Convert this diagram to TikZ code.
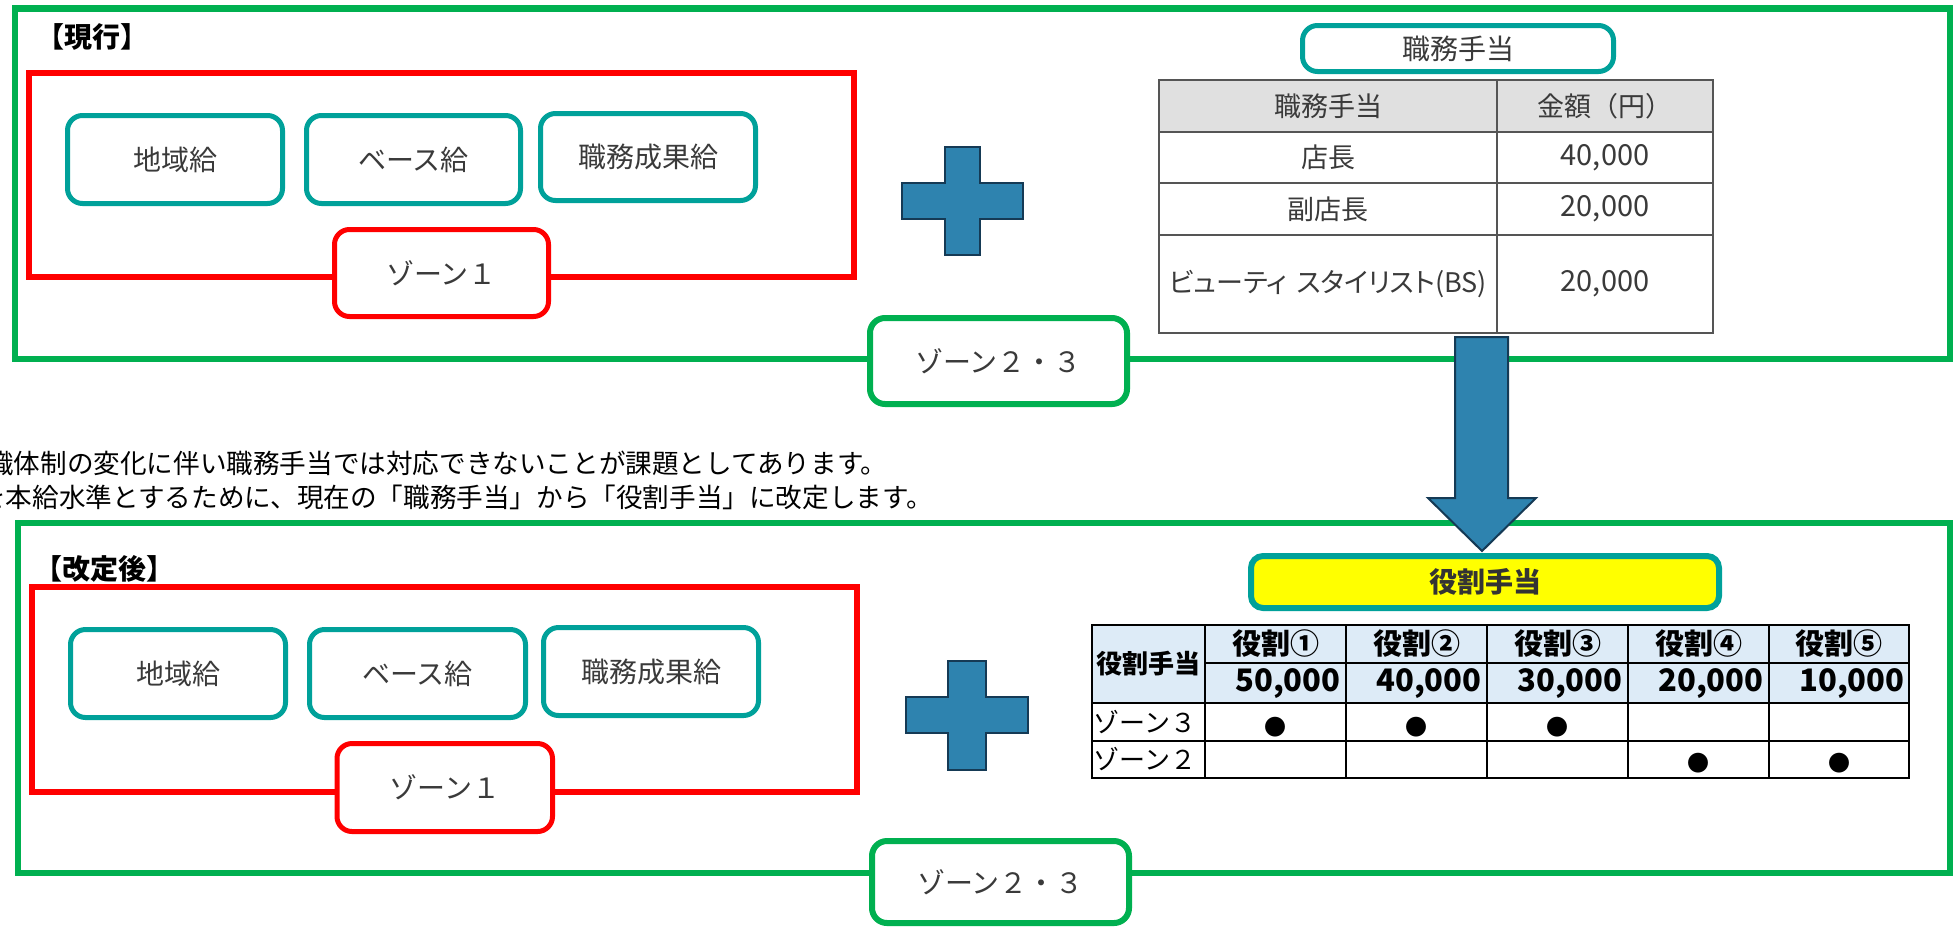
\documentclass[tikz,border=0pt]{standalone}
\usepackage{fontspec}
\setmainfont{Noto Sans CJK JP}
\newfontfamily\paltfont{Noto Sans CJK JP}[RawFeature={+palt}]
\definecolor{zgreen}{HTML}{00B050}
\definecolor{zred}{HTML}{FF0000}
\definecolor{zteal}{HTML}{00A19A}
\definecolor{zblue}{HTML}{2E83AF}
\definecolor{zblueline}{HTML}{153A55}
\definecolor{ztext}{HTML}{3A3A3A}
\definecolor{zgray}{HTML}{E0E0E0}
\definecolor{zhead}{HTML}{DDEBF7}
\definecolor{zyellow}{HTML}{FFFF00}
\definecolor{ztline}{HTML}{555555}
\newcommand\zfs[1]{\fontsize{#1}{#1}\selectfont}
\begin{document}
\begin{tikzpicture}[x=0.5pt,y=-0.5pt,
  gframe/.style={draw=zgreen,line width=3.25pt},
  rframe/.style={draw=zred,line width=3pt},
  rbox/.style={draw=#1,line width=2.5pt,rounded corners=7.5pt,fill=white,text=ztext,font=\zfs{14pt},inner sep=0pt},
  tealbox/.style={rbox=zteal},
  redbox/.style={rbox=zred},
  greenbox/.style={rbox=zgreen,line width=3pt},
  secttitle/.style={anchor=west,inner sep=0pt,font=\bfseries\zfs{14pt},text=black},
  bodyline/.style={anchor=west,inner sep=0pt,font=\zfs{13.3pt},text=black},
  plusshape/.style={fill=zblue,draw=zblueline,line width=1pt},
  tlineA/.style={draw=ztline,line width=1pt},
  tlineB/.style={draw=black,line width=0.8pt},
  tA/.style={inner sep=0pt,font=\paltfont\zfs{13.5pt},text=ztext},
  tAn/.style={inner sep=0pt,font=\zfs{14.5pt},text=ztext},
  tBh/.style={inner sep=0pt,font=\bfseries\zfs{14.5pt},text=black},
  tBn/.style={inner sep=0pt,anchor=east,font=\bfseries\zfs{15.5pt},text=black},
  tBz/.style={inner sep=0pt,anchor=west,font=\zfs{13pt},text=black},
  dotm/.style={inner sep=0pt,font=\zfs{11pt},text=black}
]
\useasboundingbox (0,0) rectangle (1954,927);
\fill[white] (0,0) rectangle (1954,927);

% ===== top section =====
\draw[gframe] (15,8.5) rectangle (1950,359);
\node[secttitle] (ttl1) at (36,36.5) {【現行】};
\draw[rframe] (29,73) rectangle (854,277);
\node[tealbox,minimum width=107.5pt,minimum height=44pt] (a1) at (175,159.5) {地域給};
\node[tealbox,minimum width=107pt,minimum height=44pt] (a2) at (413.5,159.5) {ベース給};
\node[tealbox,minimum width=107.5pt,minimum height=43.5pt] (a3) at (648,157) {職務成果給};
\node[redbox,minimum width=107pt,minimum height=43.5pt] (z1a) at (441.5,273) {ゾーン１};
\node[greenbox,minimum width=128.5pt,minimum height=43pt] (z23a) at (998.5,361) {ゾーン２・３};
\filldraw[plusshape] (945,147) -- (980,147) -- (980,183) -- (1023,183) -- (1023,219) -- (980,219) -- (980,255) -- (945,255) -- (945,219) -- (902,219) -- (902,183) -- (945,183) -- cycle;
\node[tealbox,minimum width=155.5pt,minimum height=23pt] (t1title) at (1458,48.5) {職務手当};

% table 1
\fill[zgray] (1159,80) rectangle (1713,132);
\draw[tlineA] (1159,80) rectangle (1713,333);
\draw[tlineA] (1159,132) -- (1713,132);
\draw[tlineA] (1159,183) -- (1713,183);
\draw[tlineA] (1159,235) -- (1713,235);
\draw[tlineA] (1497,80) -- (1497,333);
\node[tA] (h1) at (1328,106) {職務手当};
\node[inner sep=0pt,font=\zfs{13.5pt},text=ztext] (h2) at (1605,106) {金額（円）};
\node[tA] (r1a) at (1328,157.5) {店長};
\node[tAn] (r1b) at (1605,157.5) {40,000};
\node[tA] (r2a) at (1328,209) {副店長};
\node[tAn] (r2b) at (1605,209) {20,000};
\node[tA] (r3a) at (1328,284) {ビューティ\hspace{0.35em}スタイリスト(BS)};
\node[tAn] (r3b) at (1605,284) {20,000};

% ===== explanatory text =====
\node[bodyline] (txt1) at (-13,463) {織体制の変化に伴い職務手当では対応できないことが課題としてあります。};
\node[bodyline] (txt2) at (-21,497) {を本給水準とするために、現在の「職務手当」から「役割手当」に改定します。};

% ===== bottom section =====
\draw[gframe] (18,523) rectangle (1950,873);
\node[secttitle] (ttl2) at (34,568.5) {【改定後】};
\draw[rframe] (32,587) rectangle (857,792);
\node[tealbox,minimum width=107.5pt,minimum height=44pt] (b1) at (178,673.5) {地域給};
\node[tealbox,minimum width=108pt,minimum height=44pt] (b2) at (417.5,673.5) {ベース給};
\node[tealbox,minimum width=107.5pt,minimum height=44pt] (b3) at (651,671.5) {職務成果給};
\node[redbox,minimum width=107.75pt,minimum height=44pt] (z1b) at (444.75,787.5) {ゾーン１};
\node[greenbox,minimum width=128.5pt,minimum height=41pt] (z23b) at (1000.5,882) {ゾーン２・３};
\filldraw[plusshape] (948,661) -- (986,661) -- (986,697) -- (1028,697) -- (1028,733) -- (986,733) -- (986,770) -- (948,770) -- (948,733) -- (906,733) -- (906,697) -- (948,697) -- cycle;
\node[tealbox,fill=zyellow,rounded corners=6pt,line width=3pt,minimum width=234pt,minimum height=26pt,font=\bfseries\zfs{14pt},text={rgb,255:red,51;green,51;blue,51}] (yk) at (1485,582) {役割手当};

% table 2
\fill[zhead] (1092,625) rectangle (1909,703);
\draw[tlineB] (1092,625) rectangle (1909,778);
\draw[tlineB] (1205,663) -- (1909,663);
\draw[tlineB] (1092,703) -- (1909,703);
\draw[tlineB] (1092,741) -- (1909,741);
\foreach \cx in {1205,1346,1487,1628,1769} {\draw[tlineB] (\cx,625) -- (\cx,778);}
\node[inner sep=0pt,font=\bfseries\zfs{13pt},text=black] (yh) at (1148.5,664) {役割手当};
\node[tBh] (c1) at (1275.5,644) {役割①};
\node[tBh] (c2) at (1416.5,644) {役割②};
\node[tBh] (c3) at (1557.5,644) {役割③};
\node[tBh] (c4) at (1698.5,644) {役割④};
\node[tBh] (c5) at (1839,644) {役割⑤};
\node[tBn] (v1) at (1341,684) {50,000};
\node[tBn] (v2) at (1482,684) {40,000};
\node[tBn] (v3) at (1623,684) {30,000};
\node[tBn] (v4) at (1764,684) {20,000};
\node[tBn] (v5) at (1905,684) {10,000};
\node[tBz] (zr3) at (1093,722) {ゾーン３};
\node[tBz] (zr2) at (1093,759.5) {ゾーン２};
\node[dotm] (d31) at (1275.5,727) {●};
\node[dotm] (d32) at (1416.5,727) {●};
\node[dotm] (d33) at (1557.5,727) {●};
\node[dotm] (d24) at (1698.5,763.5) {●};
\node[dotm] (d25) at (1839,763.5) {●};

% ===== down arrow (table 1 -> 役割手当) =====
\coordinate (arrtop) at (1481.5,337);
\coordinate (arrtip) at (1482,551);
\filldraw[plusshape] (1455,337) -- (1508,337) -- (1508,498) -- (1536,498) -- (arrtip) -- (1428,498) -- (1455,498) -- cycle;
\end{tikzpicture}
\end{document}
